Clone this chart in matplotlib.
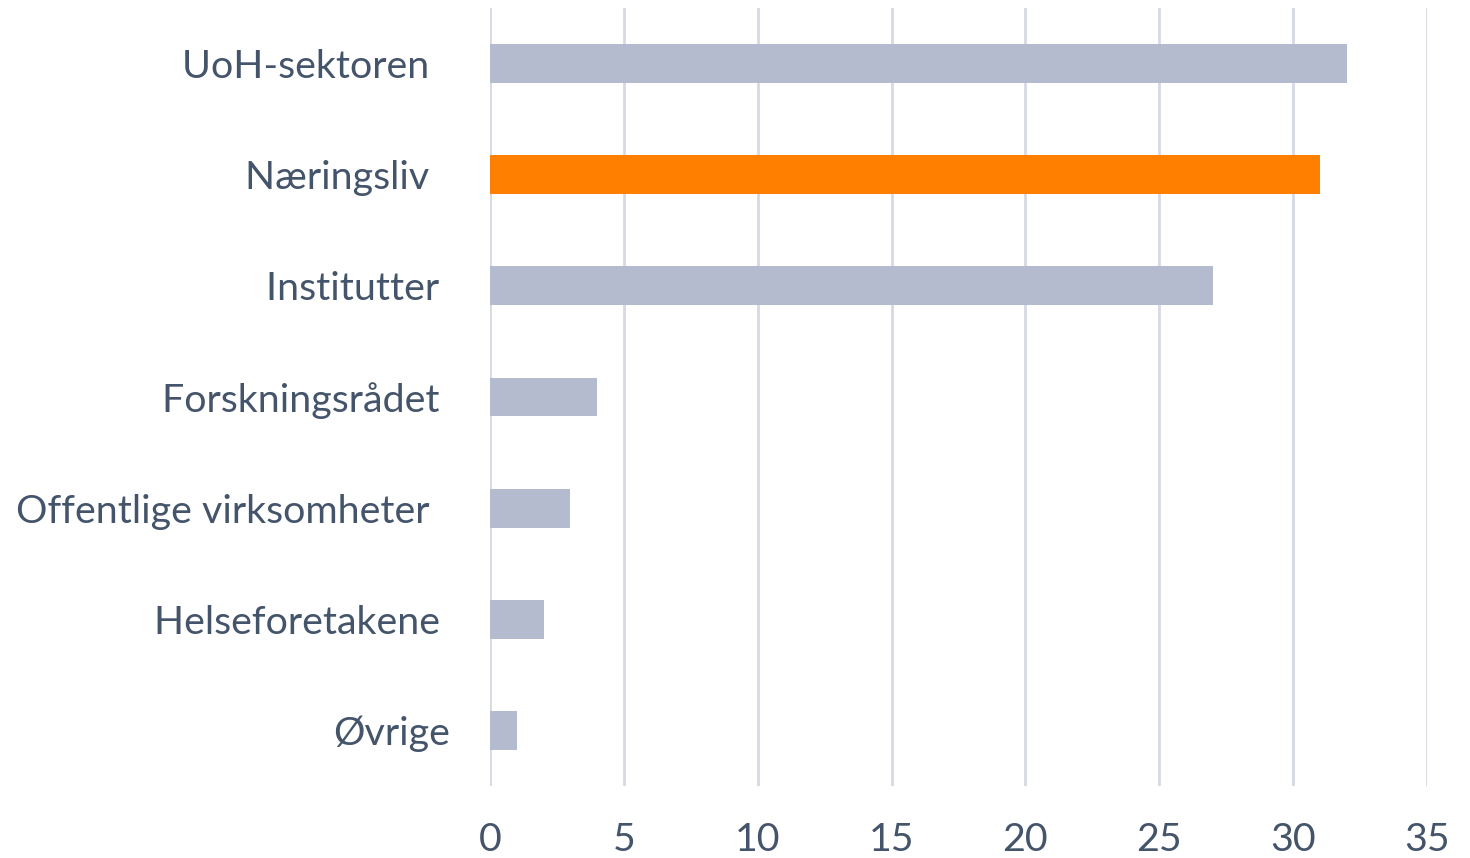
import matplotlib
matplotlib.use("Agg")
import matplotlib.pyplot as plt

categories = ["UoH-sektoren  ", "Næringsliv  ", "Institutter ", "Forskningsrådet ",
              "Offentlige virksomheter  ", "Helseforetakene ", "Øvrige"]
values = [32, 31, 27, 4, 3, 2, 1]
highlight = "Næringsliv  "
xticks = [0, 5, 10, 15, 20, 25, 30, 35]

text_color = "#44546A"
bar_color = "#B4BBCF"
hi_color = "#FF7F00"
grid_color = "#D6D9E4"

plt.rcParams['font.family'] = ['Lato', 'DejaVu Sans']

fig = plt.figure(figsize=(14.7, 8.58), dpi=100)
ax = fig.add_axes([490 / 1470, 1 - 786 / 858, (1427 - 490) / 1470, 778 / 858])

colors = [hi_color if c == highlight else bar_color for c in categories]
ypos = list(range(len(categories)))
ax.barh(ypos, values, height=0.35, color=colors, zorder=3)

ax.set_ylim(len(categories) - 0.5, -0.5)
ax.set_xlim(0, 35)
ax.set_xticks(xticks)
ax.set_yticks(ypos)
ax.set_yticklabels(categories)
ax.xaxis.grid(True, color=grid_color, linewidth=2)
ax.set_axisbelow(True)
for s in ax.spines.values():
    s.set_visible(False)
ax.tick_params(axis='both', length=0, labelsize=28.4, labelcolor=text_color)
ax.tick_params(axis='x', pad=26)
ax.tick_params(axis='y', pad=29)

fig.savefig("out.png", dpi=100)
